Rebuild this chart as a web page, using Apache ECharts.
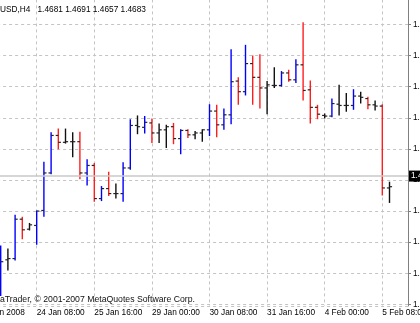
<!DOCTYPE html>
<html><head><meta charset="utf-8">
<script src="https://cdn.jsdelivr.net/npm/echarts@6.0.0/dist/echarts.min.js"></script>
<style>html,body{margin:0;padding:0;background:#fff;overflow:hidden}#c{width:420px;height:323px}</style>
</head><body><div id="c"></div>
<script>
const symbol = "EURUSD,H4";
const copyright = "MetaTrader, \u00a9 2001-2007 MetaQuotes Software Corp.";
const times = [
 "23 Jan 12:00","23 Jan 16:00","23 Jan 20:00",
 "24 Jan 00:00","24 Jan 04:00","24 Jan 08:00","24 Jan 12:00","24 Jan 16:00","24 Jan 20:00",
 "25 Jan 00:00","25 Jan 04:00","25 Jan 08:00","25 Jan 12:00","25 Jan 16:00","25 Jan 20:00",
 "28 Jan 00:00","28 Jan 04:00","28 Jan 08:00","28 Jan 12:00","28 Jan 16:00","28 Jan 20:00",
 "29 Jan 00:00","29 Jan 04:00","29 Jan 08:00","29 Jan 12:00","29 Jan 16:00","29 Jan 20:00",
 "30 Jan 00:00","30 Jan 04:00","30 Jan 08:00","30 Jan 12:00","30 Jan 16:00","30 Jan 20:00",
 "31 Jan 00:00","31 Jan 04:00","31 Jan 08:00","31 Jan 12:00","31 Jan 16:00","31 Jan 20:00",
 "1 Feb 00:00","1 Feb 04:00","1 Feb 08:00","1 Feb 12:00","1 Feb 16:00","1 Feb 20:00",
 "4 Feb 00:00","4 Feb 04:00","4 Feb 08:00","4 Feb 12:00","4 Feb 16:00","4 Feb 20:00",
 "5 Feb 00:00","5 Feb 04:00","5 Feb 08:00","5 Feb 12:00"
];
const open  = [1.4518,1.4566,1.4568,1.4631,1.4615,1.4621,1.4645,1.4705,1.4765,1.4754,
               1.4755,1.4755,1.4705,1.4717,1.4664,1.4680,1.4672,1.4672,1.4713,1.4781,
               1.4778,1.4785,1.4769,1.4774,1.4779,1.4760,1.4773,1.4766,1.4769,1.4774,
               1.4804,1.4782,1.4798,1.4852,1.4835,1.4880,1.4858,1.4841,1.4845,1.4845,
               1.4865,1.4854,1.4878,1.4838,1.4810,1.4797,1.4796,1.4815,1.4813,1.4813,
               1.4828,1.4824,1.4814,1.4812,1.4681];
const high  = [1.4589,1.4584,1.4638,1.4635,1.4625,1.4645,1.4723,1.4770,1.4776,1.4776,
               1.4770,1.4771,1.4727,1.4721,1.4684,1.4707,1.4688,1.4722,1.4791,1.4797,
               1.4796,1.4792,1.4784,1.4782,1.4785,1.4775,1.4775,1.4772,1.4775,1.4815,
               1.4814,1.4808,1.4903,1.4858,1.4910,1.4893,1.4895,1.4852,1.4874,1.4868,
               1.4870,1.4887,1.4946,1.4853,1.4814,1.4800,1.4824,1.4846,1.4833,1.4839,
               1.4835,1.4827,1.4821,1.4815,1.4691];
const low   = [1.4508,1.4549,1.4565,1.4599,1.4613,1.4590,1.4635,1.4703,1.4743,1.4752,
               1.4730,1.4695,1.4685,1.4659,1.4660,1.4668,1.4664,1.4659,1.4710,1.4767,
               1.4768,1.4753,1.4753,1.4745,1.4751,1.4735,1.4761,1.4759,1.4755,1.4764,
               1.4762,1.4774,1.4783,1.4814,1.4829,1.4814,1.4808,1.4799,1.4841,1.4843,
               1.4851,1.4849,1.4821,1.4784,1.4791,1.4792,1.4794,1.4797,1.4803,1.4806,
               1.4816,1.4807,1.4805,1.4669,1.4657];
const close = [1.4563,1.4568,1.4631,1.4614,1.4622,1.4644,1.4705,1.4765,1.4754,1.4755,
               1.4755,1.4705,1.4717,1.4664,1.4680,1.4672,1.4672,1.4713,1.4781,1.4779,
               1.4786,1.4769,1.4774,1.4779,1.4760,1.4773,1.4766,1.4769,1.4774,1.4804,
               1.4782,1.4798,1.4851,1.4835,1.4880,1.4858,1.4841,1.4846,1.4845,1.4865,
               1.4854,1.4878,1.4837,1.4810,1.4799,1.4796,1.4816,1.4813,1.4813,1.4828,
               1.4826,1.4814,1.4812,1.4681,1.4683];
// indicator state painted over each bar: 1 = blue, -1 = red, 0 = none
const trend = [1,0,1,-1,0,1,1,1,-1,0,
               0,-1,1,-1,1,-1,0,1,1,0,
               1,-1,0,0,-1,1,-1,0,0,1,
               -1,1,1,-1,1,-1,-1,0,0,1,
               -1,1,-1,-1,-1,0,1,0,0,1,
               0,-1,0,-1,0];
const xTickIndex  = [-3,5,13,21,29,37,45,53];
const xTickLabels = ["23 Jan 2008","24 Jan 08:00","25 Jan 16:00","29 Jan 00:00",
                     "30 Jan 08:00","31 Jan 16:00","4 Feb 00:00","5 Feb 08:00"];
const yTickLabels = ["1.4992","1.4943","1.4893","1.4843","1.4793","1.4743",
                     "1.4694","1.4644","1.4594","1.4544","1.4495"];

const FONT = "'Liberation Sans', Arial, sans-serif";
const priceMax = 1.499228, priceMin = 1.449212, gridStep = 0.004976;
const last = close.length - 1;
const fmt = v => v.toFixed(4);

const data = times.map((t, i) => [i, open[i], high[i], low[i], close[i], trend[i]]);

const chart = echarts.init(document.getElementById('c'), null, {renderer: 'canvas'});
chart.setOption({
  animation: false,
  backgroundColor: '#ffffff',
  grid: {left: -20.9, top: -6.6, width: 428.9, height: 312.6, containLabel: false, outerBoundsMode: 'none'},
  xAxis: {
    type: 'value', min: -3, max: -3 + 428.9 / 7.2, interval: 4,
    axisLine: {show: true, lineStyle: {color: '#808080', width: 1}},
    axisTick: {show: true, customValues: xTickIndex, length: 3, lineStyle: {color: '#808080'}},
    splitLine: {show: true, lineStyle: {color: '#c4c4c4', type: [3, 3], width: 1}},
    axisLabel: {
      show: true, customValues: xTickIndex, showMinLabel: true, showMaxLabel: true, hideOverlap: false,
      align: 'left', margin: 3, color: '#000', fontSize: 8.3, fontFamily: FONT,
      formatter: v => { const k = xTickIndex.indexOf(Math.round(v)); return k >= 0 ? xTickLabels[k] : ''; }
    }
  },
  yAxis: [
    {type: 'value', min: priceMin, max: priceMax, show: false, splitLine: {show: false}},
    {type: 'value', position: 'right', inverse: true, min: 0, max: (priceMax - priceMin) / gridStep, interval: 1,
     axisLine: {show: true, lineStyle: {color: '#808080', width: 1}},
     axisTick: {show: true, inside: false, length: 3, lineStyle: {color: '#808080'}},
     splitLine: {show: true, lineStyle: {color: '#c4c4c4', type: [3, 3], width: 1}},
     axisLabel: {show: true, margin: 5, align: 'left', color: '#000', fontSize: 8.3, fontFamily: FONT,
       showMinLabel: true, showMaxLabel: false, hideOverlap: false,
       formatter: v => { const k = Math.round(v); return Math.abs(v - k) < 1e-6 && yTickLabels[k] ? yTickLabels[k] : ''; }}
    }
  ],
  series: [
    {
      type: 'line', data: [], yAxisIndex: 0, z: 1, silent: true,
      markLine: {
        silent: true, symbol: ['none', 'none'], animation: false,
        lineStyle: {color: '#c8c8c8', type: 'solid', width: 1.5},
        label: {show: true, position: 'end', distance: 1, color: '#fff', backgroundColor: '#000',
                padding: [2, 3, 1, 2], fontSize: 8.3, fontFamily: FONT, formatter: p => fmt(p.value)},
        data: [{yAxis: close[last]}]
      }
    },
    {
      type: 'custom', yAxisIndex: 0, z: 3, data: data,
      encode: {x: 0, y: [1, 2, 3, 4]},
      renderItem: (params, api) => {
        const i = api.value(0);
        const o = api.coord([i, api.value(1)]);
        const h = api.coord([i, api.value(2)]);
        const l = api.coord([i, api.value(3)]);
        const c = api.coord([i, api.value(4)]);
        const s = api.value(5);
        const col = s > 0 ? '#0000ff' : (s < 0 ? '#ff1e1e' : '#111111');
        const x = o[0];
        return {type: 'group', children: [
          {type: 'line', shape: {x1: x, y1: h[1], x2: x, y2: l[1]}, style: {stroke: col, lineWidth: 1.4}},
          {type: 'line', shape: {x1: x - 2.6, y1: o[1], x2: x, y2: o[1]}, style: {stroke: '#222', lineWidth: 1.2}},
          {type: 'line', shape: {x1: x, y1: c[1], x2: x + 2.6, y2: c[1]}, style: {stroke: '#222', lineWidth: 1.2}}
        ]};
      }
    }
  ],
  graphic: [
    {type: 'text', x: -17.5, y: 10, z: 10, silent: true,
     style: {text: symbol, fill: '#000', fontSize: 8.3, fontFamily: FONT, verticalAlign: 'middle'}},
    {type: 'text', x: 37.5, y: 10, z: 10, silent: true,
     style: {text: [open[last], high[last], low[last], close[last]].map(fmt).join(' '),
             fill: '#000', fontSize: 8.3, fontFamily: FONT, verticalAlign: 'middle'}},
    {type: 'text', x: -14.5, y: 300, z: 10, silent: true,
     style: {text: copyright, fill: '#111', fontSize: 8.7, fontFamily: FONT, verticalAlign: 'middle'}}
  ]
});
</script>
</body></html>
